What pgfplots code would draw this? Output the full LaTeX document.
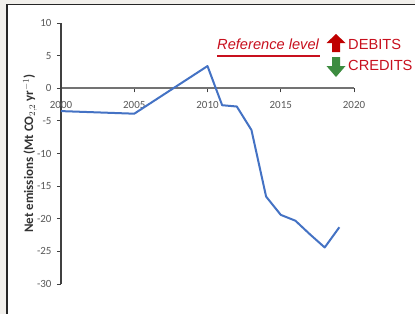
\documentclass[border=0pt]{standalone}
\usepackage{fontspec}
\usepackage{pgfplots}
\pgfplotsset{compat=1.18}
\setmainfont{Liberation Sans}
\newfontfamily\calibri{Carlito}
\definecolor{lineblue}{RGB}{68,114,196}
\definecolor{refred}{RGB}{200,16,30}
\definecolor{arrred}{RGB}{192,0,0}
\definecolor{arrgreen}{RGB}{61,140,64}
\definecolor{ticklab}{RGB}{89,89,89}
\definecolor{framegray}{RGB}{242,240,236}
\begin{document}
\begin{tikzpicture}
\useasboundingbox (0,0) rectangle (415bp,-314bp);
\fill[white] (0,0) rectangle (415bp,-314bp);
\fill[framegray] (0,0) rectangle (6bp,-314bp);
\fill[framegray] (0,0) rectangle (415bp,-3.5bp);
\draw[black!85,line width=1.6bp] (6.8bp,-314bp) -- (6.8bp,-4.3bp) -- (415bp,-4.3bp);
\begin{axis}[
  scale only axis,
  width=293bp, height=261bp,
  at={(61bp,-284bp)}, anchor=south west,
  xmin=2000, xmax=2020, ymin=-30, ymax=10,
  axis y line=left, axis x line=middle,
  hide obscured x ticks=false,
  hide obscured y ticks=false,
  x axis line style={-, draw=black!55, line width=2bp},
  y axis line style={-, draw=black!75, line width=1.4bp},
  xtick={2000,2005,2010,2015,2020},
  xticklabels={2000,2005,2010,2015,2020},
  ytick={-30,-25,-20,-15,-10,-5,0,5,10},
  yticklabels={-30,-25,-20,-15,-10,-5,0,5,10},
  tick style={draw=black!75, line width=1bp},
  major tick length=4bp,
  ytick align=outside,
  xtick align=outside,
  xticklabel style={font=\calibri\fontsize{11}{13}\selectfont, text=ticklab, anchor=center, yshift=-12.5bp},
  yticklabel style={font=\calibri\fontsize{11}{13}\selectfont, text=ticklab, anchor=east, xshift=-2bp},
  ylabel={Net emissions (Mt CO$_{2,2}$ yr$^{-1}$)},
  ylabel style={font=\calibri\bfseries\fontsize{13}{15}\selectfont, text=black!80, at={(axis description cs:-0.106,0.5)}, anchor=center},
  clip=false,
]
\addplot[lineblue, line width=2bp, line join=round] coordinates {
  (2000,-3.5) (2005,-3.9) (2010,3.4) (2011,-2.6) (2012,-2.8) (2013,-6.4)
  (2014,-16.6) (2015,-19.4) (2016,-20.3) (2017,-22.4) (2018,-24.4) (2019,-21.3)
};
\end{axis}
% annotation
\node[anchor=base west, inner sep=0, text=refred, font=\itshape\fontsize{14.7}{17}\selectfont] at (217bp,-49bp) {Reference level};
\draw[refred, line width=2bp] (217bp,-56bp) -- (320bp,-56bp);
\fill[arrred] (336bp,-34bp) -- (345.5bp,-43bp) -- (340bp,-43bp) -- (340bp,-52bp) -- (332bp,-52bp) -- (332bp,-43bp) -- (326.5bp,-43bp) -- cycle;
\fill[arrgreen] (336bp,-77bp) -- (345.5bp,-66bp) -- (340bp,-66bp) -- (340bp,-57bp) -- (332bp,-57bp) -- (332bp,-66bp) -- (326.5bp,-66bp) -- cycle;
\node[anchor=base west, inner sep=0, text=refred, font=\fontsize{14.7}{17}\selectfont] at (348bp,-49.5bp) {DEBITS};
\node[anchor=base west, inner sep=0, text=refred, font=\fontsize{14.7}{17}\selectfont] at (348bp,-70.5bp) {CREDITS};
\end{tikzpicture}
\end{document}
